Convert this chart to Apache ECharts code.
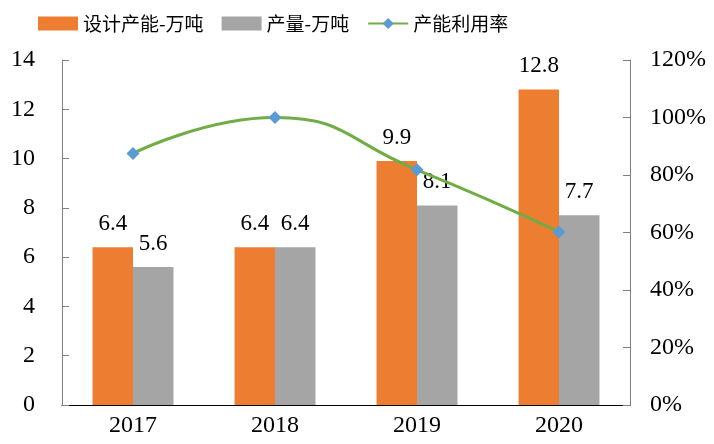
<!DOCTYPE html>
<html>
<head>
<meta charset="utf-8">
<script src="https://cdn.jsdelivr.net/npm/echarts@6/dist/echarts.min.js"></script>
<style>
  html, body { margin: 0; padding: 0; background: #fff; }
  #chart { width: 714px; height: 444px; }
</style>
</head>
<body>
<div id="chart"></div>
<script>
  // 数据
  var years = ['2017', '2018', '2019', '2020'];
  var capacity = [6.4, 6.4, 9.9, 12.8];      // 设计产能-万吨
  var output = [5.6, 6.4, 8.1, 7.7];         // 产量-万吨
  var utilization = [87.5, 100, 81.8, 60.2]; // 产能利用率 %

  var serif = '"Liberation Serif", "Times New Roman", serif';
  var cjk = '"Noto Sans CJK SC", sans-serif';

  var chart = echarts.init(document.getElementById('chart'));
  chart.setOption({
    animation: false,
    legend: {
      top: 9,
      left: 33,
      itemWidth: 40,
      itemHeight: 14,
      itemGap: 18,
      textStyle: { fontFamily: cjk, fontSize: 19, color: '#000' },
      data: [
        { name: '设计产能-万吨', icon: 'rect' },
        { name: '产量-万吨', icon: 'rect' },
        { name: '产能利用率' }
      ]
    },
    grid: {
      left: 62,
      right: 84,
      top: 60,
      bottom: 39
    },
    xAxis: {
      type: 'category',
      data: years,
      axisLine: { lineStyle: { color: '#000' } },
      axisTick: { inside: true, length: 7, lineStyle: { color: '#000' } },
      axisLabel: { fontFamily: serif, fontSize: 24, color: '#000', margin: 9 }
    },
    yAxis: [
      {
        type: 'value',
        min: 0,
        max: 14,
        interval: 2,
        splitLine: { show: false },
        axisLine: { show: true, lineStyle: { color: '#808080' } },
        axisTick: { show: true, inside: true, length: 7, lineStyle: { color: '#808080' } },
        axisLabel: { fontFamily: serif, fontSize: 24, color: '#000', margin: 27 }
      },
      {
        type: 'value',
        min: 0,
        max: 120,
        interval: 20,
        splitLine: { show: false },
        axisLine: { show: true, lineStyle: { color: '#808080' } },
        axisTick: { show: true, inside: true, length: 7, lineStyle: { color: '#808080' } },
        axisLabel: { fontFamily: serif, fontSize: 24, color: '#000', margin: 20, formatter: '{value}%' }
      }
    ],
    series: [
      {
        name: '设计产能-万吨',
        type: 'bar',
        data: capacity,
        barGap: '0%',
        barCategoryGap: '43%',
        itemStyle: { color: '#ED7D31' },
        label: {
          show: true,
          position: 'top',
          distance: 12,
          fontFamily: serif,
          fontSize: 23,
          color: '#000'
        }
      },
      {
        name: '产量-万吨',
        type: 'bar',
        data: output,
        itemStyle: { color: '#A5A5A5' },
        label: {
          show: true,
          position: 'top',
          distance: 12,
          fontFamily: serif,
          fontSize: 23,
          color: '#000'
        }
      },
      {
        name: '产能利用率',
        type: 'line',
        yAxisIndex: 1,
        data: utilization,
        smooth: true,
        symbol: 'diamond',
        symbolSize: 13,
        lineStyle: { color: '#70AD47', width: 3 },
        itemStyle: { color: '#5B9BD5' },
        z: 5
      }
    ]
  });
</script>
</body>
</html>
